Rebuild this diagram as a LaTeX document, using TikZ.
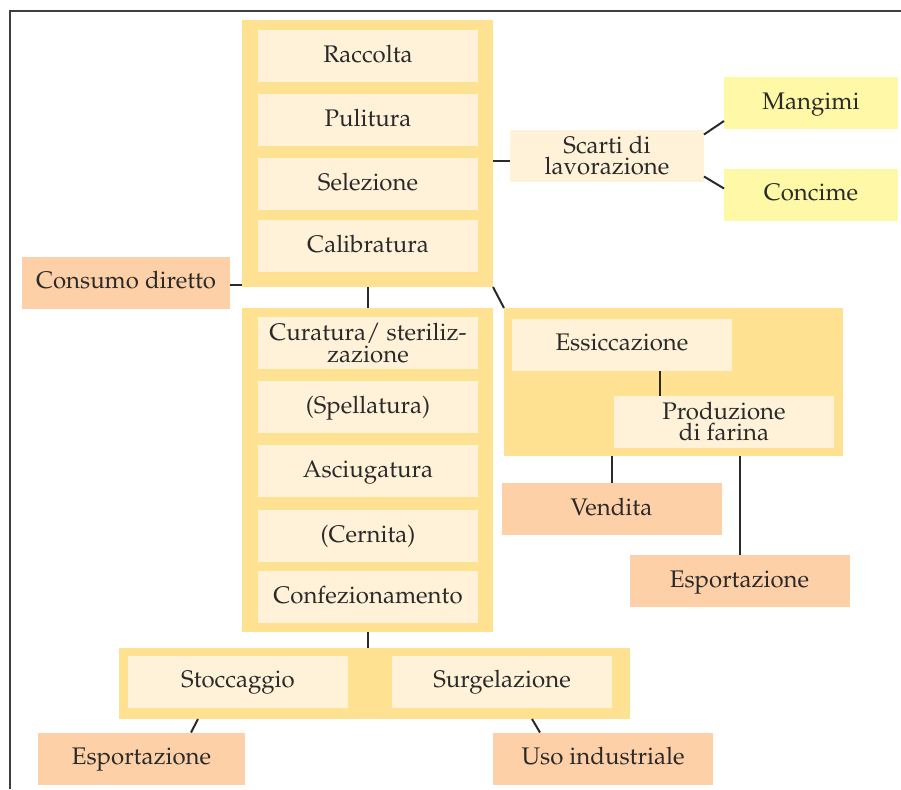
\documentclass[tikz,border=0pt]{standalone}
\usepackage[T1]{fontenc}
\usepackage{mathpazo}
\usepackage{tikz}

\definecolor{grpyellow}{HTML}{FFE291}
\definecolor{paleyellow}{HTML}{FFF2D8}
\definecolor{salmon}{HTML}{FDD0A8}
\definecolor{lemon}{HTML}{FFF8A6}
\definecolor{inkgray}{HTML}{2A2A2A}

\begin{document}
\begin{tikzpicture}[
  x=0.5pt, y=-0.5pt,
  every node/.style={font=\fontsize{12}{10.8}\selectfont, text=inkgray, align=center, inner sep=0pt, outer sep=0pt},
  grp/.style={fill=grpyellow},
  oneline/.style={text height=8.4pt, text depth=2.4pt},
  stage/.style={fill=paleyellow, minimum width=110pt, minimum height=26pt},
  outlet/.style={fill=salmon, minimum width=110pt, minimum height=26pt, oneline},
  feed/.style={fill=lemon, minimum width=87pt, minimum height=26pt, oneline},
  link/.style={draw=inkgray, line width=1pt}
]
\useasboundingbox (0,0) rectangle (901,789);

% frame
\draw[inkgray!90, line width=0.75pt] (10,789) -- (10,11) -- (901,11);

% groups
\node[grp, minimum width=125.5pt, minimum height=133.5pt] (ga) at (367.5,153.5) {};
\node[grp, minimum width=125.5pt, minimum height=162pt] (gb) at (367.5,470) {};
\node[grp, minimum width=169.5pt, minimum height=74pt] (gc) at (673.5,382) {};
\node[grp, minimum width=255.5pt, minimum height=35.5pt] (gd) at (374.5,683.5) {};

% first column
\node[stage, oneline] (raccolta) at (368,56) {Raccolta};
\node[stage, oneline] (pulitura) at (368,120) {Pulitura};
\node[stage, oneline] (selezione) at (368,184) {Selezione};
\node[stage, oneline] (calibratura) at (368,246) {Calibratura};

% second column
\node[stage] (curatura) at (368,343) {Curatura/ steriliz-\\zazione};
\node[stage, oneline] (spellatura) at (368,407) {(Spellatura)};
\node[stage, oneline] (asciugatura) at (368,471) {Asciugatura};
\node[stage, oneline] (cernita) at (368,536) {(Cernita)};
\node[stage, oneline] (confezion) at (368,597) {Confezionamento};

% bottom row
\node[stage, oneline] (stoccaggio) at (238,681.5) {Stoccaggio};
\node[stage, oneline] (surgelazione) at (502,681.5) {Surgelazione};
\node[outlet, minimum width=103.5pt] (esportl) at (141.5,758.5) {Esportazione};
\node[outlet] (uso) at (603,758.5) {Uso industriale};

% flour branch
\node[stage, oneline] (essicc) at (622,344.5) {Essiccazione};
\node[stage] (farina) at (724,421.5) {Produzione\\di farina};
\node[outlet] (vendita) at (611.5,509) {Vendita};
\node[outlet] (esportr) at (739.5,581) {Esportazione};

% waste branch
\node[stage, minimum width=97pt] (scarti) at (607,155.5) {Scarti di\\lavorazione};
\node[feed] (mangimi) at (811,103) {Mangimi};
\node[feed] (concime) at (811,194.5) {Concime};

\node[outlet, minimum width=104pt] (consumo) at (126,282.5) {Consumo diretto};

% connectors
\draw[link] ([yshift=-1pt]consumo.east) -- ([yshift=-1pt]consumo.east -| ga.west);
\draw[link] (ga.south) -- (gb.north);
\draw[link] (ga.south east) -- (gc.north west);
\draw[link] (gb.south) -- (gb.south |- gd.north);
\draw[link] ([xshift=39.5pt]gd.south west) -- ([xshift=76.5pt]esportl.north west);
\draw[link] ([xshift=206.5pt]gd.south west) -- ([xshift=23.5pt]uso.north west);
\draw[link] ([xshift=74pt]essicc.south west) -- ([xshift=74pt]essicc.south west |- farina.north);
\draw[link] (vendita.north |- gc.south) -- (vendita.north);
\draw[link] (esportr.north |- gc.south) -- (esportr.north);
\draw[link] ([yshift=-2.5pt]scarti.west) -- ([yshift=-2.5pt]scarti.west -| ga.east);
\draw[link] ([yshift=-2.5pt]scarti.north east) -- ([yshift=4pt]mangimi.south west);
\draw[link] ([yshift=2.5pt]scarti.south east) -- ([yshift=-10pt]concime.north west);
\end{tikzpicture}
\end{document}
